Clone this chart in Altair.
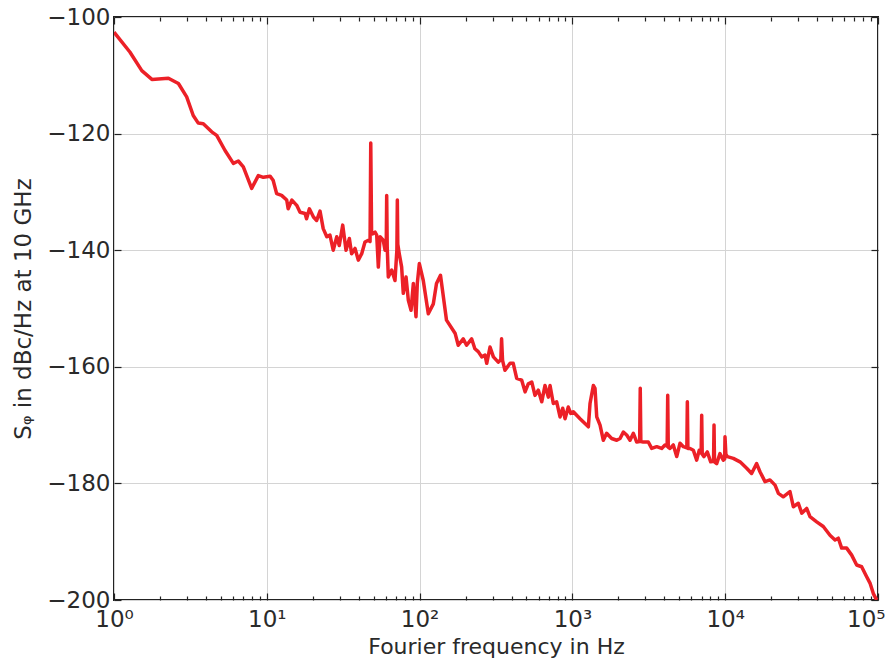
import altair as alt
import pandas as pd

freq_hz = [
    1.0, 1.27, 1.52, 1.77, 2.27, 2.64, 2.99, 3.30, 3.56, 3.84,
    4.36, 4.70, 5.33, 6.04, 6.51, 7.02, 7.96, 8.80, 9.49, 10.5,
    11.0, 11.6, 12.5, 13.5, 13.8, 14.6, 15.7, 16.5, 17.8, 18.2,
    19.0, 20.2, 21.2, 22.3, 23.4, 24.7, 25.9, 27.2, 28.7, 29.8,
    31.4, 33.0, 34.7, 35.9, 37.8, 39.7, 41.8, 43.9, 46.2, 47.4,
    47.9, 48.5, 49.3, 51.1, 52.4, 53.7, 55.1, 57.8, 59.4, 60.5,
    60.9, 61.4, 62.4, 65.7, 69.0, 71.0, 71.5, 72.0, 73.6, 76.3,
    78.2, 81.5, 84.4, 87.9, 91.0, 94.7, 96.6, 99.6, 105.7, 114,
    123, 129, 137, 150, 171, 179, 193, 203, 219, 230,
    242, 255, 268, 275, 289, 304, 327, 340, 344, 349,
    362, 391, 410, 432, 466, 490, 515, 542, 569, 598,
    630, 662, 696, 714, 750, 789, 830, 864, 895, 940,
    975, 1014, 1122, 1272, 1304, 1371, 1406, 1443, 1517, 1594,
    1675, 1807, 1950, 2050, 2155, 2266, 2383, 2506, 2636, 2755,
    2780, 2805, 2910, 3139, 3303, 3563, 3838, 4036, 4170, 4205,
    4240, 4355, 4575, 4816, 5063, 5325, 5610, 5653, 5700, 5888,
    6185, 6506, 6764, 6960, 7017, 7075, 7264, 7634, 8036, 8390,
    8450, 8510, 8795, 9240, 9720, 9920, 9970, 10100, 10330, 11300,
    12500, 13830, 14890, 16060, 16890, 18220, 19630, 21200, 22290, 23990,
    26540, 27910, 30090, 31700, 34140, 35890, 39690, 43850, 48510, 52350,
    55000, 57840, 62370, 67250, 72510, 78170, 84300, 88650, 93190, 98000,
]

s_phi_dbc = [
    -102.6, -106.0, -109.2, -110.7, -110.5, -111.4, -113.7, -116.9, -118.2, -118.3,
    -119.7, -120.3, -122.9, -125.1, -124.7, -125.7, -129.4, -127.2, -127.5, -127.3,
    -128.0, -130.3, -130.6, -131.4, -132.9, -131.4, -132.3, -133.5, -133.7, -134.6,
    -132.9, -134.3, -134.9, -133.3, -136.3, -137.7, -137.4, -140.0, -137.7, -139.2,
    -135.7, -140.0, -138.0, -140.6, -139.7, -141.7, -140.6, -138.6, -138.3, -138.5,
    -121.6, -137.0, -137.2, -136.9, -137.4, -142.9, -137.7, -138.3, -140.0, -139.0,
    -130.6, -139.5, -144.6, -143.4, -145.2, -140.0, -131.4, -139.0, -140.6, -142.9,
    -147.4, -144.6, -148.6, -150.3, -145.7, -151.4, -145.7, -142.3, -145.2, -150.9,
    -149.2, -145.7, -144.3, -152.0, -154.3, -156.3, -155.2, -156.3, -155.2, -156.9,
    -157.4, -158.3, -158.0, -159.4, -156.6, -158.3, -159.2, -158.8, -155.2, -158.9,
    -160.6, -159.4, -159.4, -162.0, -162.3, -164.3, -162.9, -162.6, -164.9, -164.0,
    -166.0, -163.2, -165.2, -163.2, -166.3, -166.0, -168.6, -167.1, -168.9, -166.9,
    -168.0, -167.7, -168.9, -170.3, -166.3, -163.2, -163.7, -168.6, -170.0, -172.6,
    -171.4, -172.3, -172.6, -172.3, -171.2, -171.7, -172.6, -171.4, -172.9, -172.8,
    -163.7, -172.8, -172.9, -172.9, -174.0, -173.7, -174.0, -173.4, -173.6, -164.9,
    -173.8, -174.0, -173.4, -175.4, -173.1, -173.7, -173.9, -166.0, -174.0, -174.0,
    -174.3, -176.0, -174.3, -174.8, -168.3, -175.0, -175.4, -174.6, -176.3, -176.2,
    -170.0, -176.3, -176.6, -174.9, -176.0, -175.8, -172.0, -175.0, -175.4, -175.7,
    -176.3, -177.4, -178.3, -176.6, -178.0, -179.7, -179.4, -180.3, -181.7, -182.3,
    -181.4, -184.0, -183.4, -185.1, -184.3, -185.7, -186.6, -187.4, -188.9, -189.7,
    -189.4, -191.1, -191.1, -192.3, -194.0, -194.3, -196.0, -197.1, -198.9, -200.0,
]

x_major = [1, 10, 100, 1000, 10000, 100000]
x_minor = [m * d for d in [1, 10, 100, 1000, 10000] for m in [2, 3, 4, 5, 6, 7, 8, 9]]
y_major = [-100, -120, -140, -160, -180, -200]

df = pd.DataFrame({"f": freq_hz, "s": s_phi_dbc})

FONT = "DejaVu Sans"
TXT = "#2a2a2a"
FRAME = "#222222"

x_scale = alt.Scale(type="log", domain=[1, 100000], nice=False)
y_scale = alt.Scale(domain=[-200, -100], nice=False, zero=False)

base = alt.Chart(df)

line = base.mark_line(color="#ec2027", strokeWidth=3.5, clip=True, strokeJoin="round").encode(
    x=alt.X(
        "f:Q",
        scale=x_scale,
        axis=alt.Axis(
            values=x_major,
            title="Fourier frequency in Hz",
            labelExpr="'10' + ['⁰','¹','²','³','⁴','⁵'][round(log(datum.value) / LN10)]",
            grid=True,
            gridColor="#d4d4d4",
            gridWidth=1,
            ticks=False,
            domain=False,
            labelFont=FONT,
            labelFontSize=23,
            labelColor=TXT,
            labelPadding=8,
            labelFlush=False,
            labelOverlap=False,
            labelAlign={"condition": {"test": "datum.value >= 99999", "value": "right"}, "value": "center"},
            labelOffset={"condition": {"test": "datum.value >= 99999", "value": 7}, "value": 0},
            titleFont=FONT,
            titleFontSize=22,
            titleFontWeight="normal",
            titleColor=TXT,
            titlePadding=5,
        ),
    ),
    y=alt.Y(
        "s:Q",
        scale=y_scale,
        axis=alt.Axis(
            values=y_major,
            title="Sᵩ in dBc/Hz at 10 GHz",
            grid=True,
            gridColor="#d4d4d4",
            gridWidth=1,
            ticks=False,
            domain=False,
            labelFont=FONT,
            labelFontSize=23,
            labelColor=TXT,
            labelPadding=4,
            labelFlush=False,
            labelOverlap=False,
            titleFont=FONT,
            titleFontSize=23,
            titleFontWeight="normal",
            titleColor=TXT,
            titlePadding=11,
        ),
    ),
)


def tick_axis(orient, values, size):
    return alt.Axis(
        orient=orient,
        values=values,
        tickSize=size,
        offset=-size,
        tickColor=FRAME,
        tickWidth=1.2,
        labels=False,
        domain=False,
        grid=False,
        title=None,
    )


def x_tick_layer(orient, values, size):
    return base.mark_line(opacity=0).encode(
        x=alt.X("f:Q", scale=x_scale, axis=tick_axis(orient, values, size)),
        y=alt.Y("s:Q", scale=y_scale, axis=None),
    )


def y_tick_layer(orient, values, size):
    return base.mark_line(opacity=0).encode(
        x=alt.X("f:Q", scale=x_scale, axis=None),
        y=alt.Y("s:Q", scale=y_scale, axis=tick_axis(orient, values, size)),
    )


chart = (
    alt.layer(
        line,
        x_tick_layer("bottom", x_major, 7),
        x_tick_layer("bottom", x_minor, 4),
        x_tick_layer("top", x_major, 7),
        x_tick_layer("top", x_minor, 4),
        y_tick_layer("left", y_major, 7),
        y_tick_layer("right", y_major, 7),
    )
    .resolve_axis(x="independent", y="independent")
    .properties(
        width=764,
        height=583,
        autosize=alt.AutoSizeParams(type="none"),
        padding={"left": 106, "top": 9, "right": 8, "bottom": 59},
        background="white",
    )
    .configure_view(stroke=FRAME, strokeWidth=2)
)

chart.save("out.html", embed_options={"renderer": "svg", "actions": False})
